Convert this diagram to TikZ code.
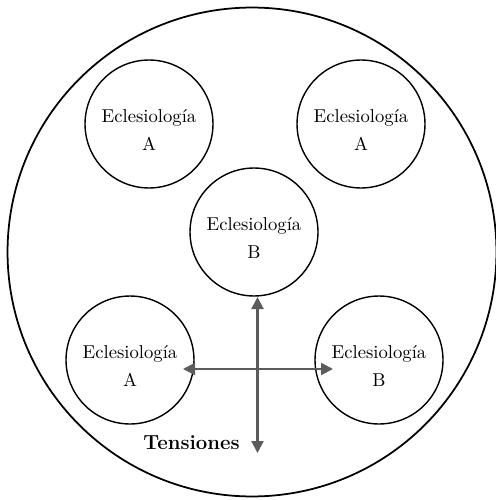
\documentclass[tikz,border=0pt]{standalone}
\usetikzlibrary{arrows.meta}
\definecolor{tensiongray}{RGB}{92,92,92}

\begin{document}
\begin{tikzpicture}[
        x=0.02cm, y=-0.02cm,
        eccl/.style={circle, draw, line width=0.8pt, minimum size=2.56cm, inner sep=0pt},
        eccltext/.style={align=center, inner sep=0pt, font=\fontsize{10.6}{16}\selectfont},
        tensarrow/.style={{Triangle[length=0.24cm, width=0.24cm]}-{Triangle[length=0.24cm, width=0.24cm]}, line width=1.2pt, tensiongray},
        tenslabel/.style={font=\fontsize{11.6}{14}\selectfont\bfseries, anchor=base}
    ]
        \useasboundingbox (0,0) rectangle (496,500);

        % Outer circle
        \node[circle, draw, line width=1pt, minimum size=9.78cm] (outer) at (252,252) {};

        % Ecclesiologies
        \foreach \n/\x/\y/\w in {tl/149/124/A, tr/361/124/A, mid/254/232/B, bl/130/360/A, br/379/360/B} {
            \node[eccl] (\n) at (\x,\y) {};
            \node[eccltext] (\n txt) at ([yshift=-0.12cm]\n.center) {Eclesiología\\\w};
        }

        % Tensions
        \coordinate (vtop) at (257.5,297);
        \coordinate (vbot) at (257.5,453);
        \coordinate (hleft) at (183,369);
        \coordinate (hright) at (333,369);
        \draw[tensarrow] (vbot) -- (vtop);
        \draw[tensarrow] (hleft) -- (hright);
        \node[tenslabel] (tens) at (191.5,449) {Tensiones};
    \end{tikzpicture}
\end{document}
